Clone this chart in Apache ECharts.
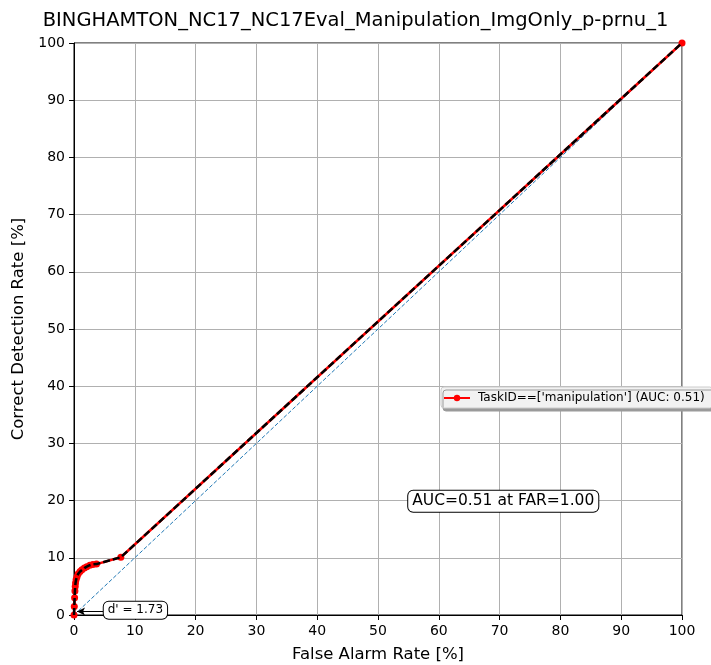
<!DOCTYPE html>
<html>
<head>
<meta charset="utf-8">
<script src="https://cdn.jsdelivr.net/npm/echarts@6/dist/echarts.min.js"></script>
<style>
  html, body { margin: 0; padding: 0; background: #fff; }
  #chart { width: 711px; height: 665px; }
</style>
</head>
<body>
<div id="chart"></div>
<script>
// ROC curve for the manipulation task
const titleText = "BINGHAMTON_NC17_NC17Eval_Manipulation_ImgOnly_p-prnu_1";
const seriesName = "TaskID==['manipulation'] (AUC: 0.51)";

// operating points: false alarm rate [%] and correct detection rate [%]
const far = [0, 0.05, 0.1, 0.15, 0.2, 0.25, 0.35, 0.5, 0.7, 1.0, 1.3, 1.7, 2.1, 2.6, 3.1, 3.7, 7.7, 100];
const cdr = [0, 1.5, 3.0, 4.2, 5.0, 5.6, 6.2, 6.7, 7.2, 7.6, 7.9, 8.2, 8.45, 8.7, 8.85, 8.9, 10.1, 100];

// chance line
const chanceX = [0, 100];
const chanceY = [0, 100];

// annotations
const aucText = "AUC=0.51 at FAR=1.00";
const aucPos = [70.6, 19.9];
const dprimeText = "d' = 1.73";
const dprimeBoxPos = [10.1, 0.85];
const dprimeArrowFrom = [4.9, 0.6];
const dprimeArrowTo = [0.5, 0.6];

const rocPoints = far.map((x, i) => [x, cdr[i]]);
const chancePoints = chanceX.map((x, i) => [x, chanceY[i]]);

const FONT = "DejaVu Sans";

const chart = echarts.init(document.getElementById('chart'), null, { renderer: 'canvas' });

const axisCommon = {
  type: 'value',
  min: 0,
  max: 100,
  interval: 10,
  nameLocation: 'middle',
  nameTextStyle: { fontFamily: FONT, fontSize: 16.5, color: '#000' },
  axisLine: { show: true, onZero: false, lineStyle: { color: '#000', width: 1 } },
  axisTick: { show: true, inside: false, length: 5, lineStyle: { color: '#000', width: 1 } },
  axisLabel: { fontFamily: FONT, fontSize: 14, color: '#000', margin: 9 },
  splitLine: { show: true, lineStyle: { color: '#b0b0b0', width: 1 } }
};

chart.setOption({
  animation: false,
  backgroundColor: '#fff',
  title: {
    text: titleText,
    left: 'center',
    top: 6,
    textStyle: { fontFamily: FONT, fontSize: 19.5, fontWeight: 'normal', color: '#000' }
  },
  grid: {
    left: 74, right: 29, top: 43, bottom: 50,
    outerBoundsMode: 'none',
    containLabel: false,
    show: true, borderColor: '#000', borderWidth: 1, backgroundColor: 'transparent'
  },
  legend: {
    data: [seriesName],
    left: 441,
    top: 387,
    itemWidth: 26,
    itemHeight: 8,
    itemGap: 0,
    padding: [5, 8, 4, 2],
    backgroundColor: '#f2f2f2',
    borderColor: '#cccccc',
    borderWidth: 1,
    borderRadius: 3,
    shadowColor: '#9a9a9a',
    shadowOffsetX: 2,
    shadowOffsetY: 3,
    shadowBlur: 0,
    textStyle: { fontFamily: FONT, fontSize: 12, color: '#000', padding: [0, 0, 0, 3] }
  },
  xAxis: Object.assign({}, axisCommon, {
    name: 'False Alarm Rate [%]',
    nameGap: 31
  }),
  yAxis: Object.assign({}, axisCommon, {
    name: 'Correct Detection Rate [%]',
    nameGap: 44
  }),
  series: [
    {
      name: 'chance',
      type: 'line',
      data: chancePoints,
      symbol: 'none',
      silent: true,
      z: 2,
      lineStyle: { color: '#1f77b4', width: 1, type: [4, 2] }
    },
    {
      name: seriesName,
      type: 'line',
      data: rocPoints,
      symbol: 'circle',
      symbolSize: 7,
      showAllSymbol: true,
      z: 3,
      itemStyle: { color: '#ff0000' },
      lineStyle: { color: '#ff0000', width: 2.5 }
    },
    {
      name: 'roc-dashed',
      type: 'line',
      data: rocPoints,
      symbol: 'none',
      z: 4,
      lineStyle: { color: '#000', width: 2.5, type: [7, 3] }
    },
    {
      name: 'annotations',
      type: 'scatter',
      data: [],
      z: 6,
      markPoint: {
        symbol: 'rect',
        symbolSize: 0,
        silent: true,
        data: [
          {
            coord: aucPos,
            label: {
              show: true, position: 'inside', formatter: aucText,
              fontFamily: FONT, fontSize: 15.5, color: '#000',
              backgroundColor: '#fff', borderColor: '#000', borderWidth: 1,
              borderRadius: 5, padding: [3, 4, 2, 4]
            }
          },
          {
            coord: dprimeBoxPos,
            label: {
              show: true, position: 'inside', formatter: dprimeText,
              fontFamily: FONT, fontSize: 12, color: '#000',
              backgroundColor: '#fff', borderColor: '#000', borderWidth: 1,
              borderRadius: 5, padding: [3, 4, 2, 4]
            }
          }
        ]
      },
      markLine: {
        silent: true,
        symbol: ['none', 'arrow'],
        symbolSize: [6, 8],
        label: { show: false },
        lineStyle: { color: '#000', width: 1, type: 'solid' },
        data: [[{ coord: dprimeArrowFrom }, { coord: dprimeArrowTo }]]
      }
    }
  ]
});
</script>
</body>
</html>
